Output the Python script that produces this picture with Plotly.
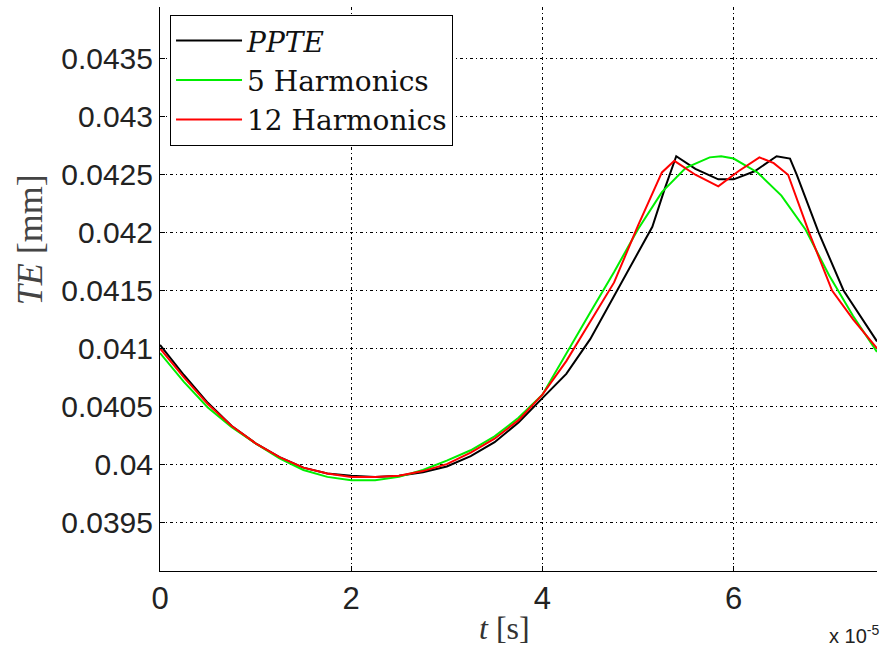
import plotly.graph_objects as go

# time in units of 1e-5 s
t_ppte = [0, 0.25, 0.5, 0.75, 1.0, 1.25, 1.5, 1.75, 2.0, 2.25, 2.5, 2.75, 3.0, 3.25, 3.5, 3.75,
          4.0, 4.25, 4.5, 4.75, 5.0, 5.15, 5.28, 5.40, 5.6, 5.84, 6.0, 6.22, 6.45, 6.59, 6.66,
          6.89, 7.15, 7.5]
te_ppte = [0.04103, 0.04077, 0.04053, 0.04033, 0.04018, 0.04006, 0.03997, 0.03992, 0.03990,
           0.03989, 0.03990, 0.03993, 0.03998, 0.04007, 0.04019, 0.04036, 0.04057, 0.04078,
           0.04108, 0.04145, 0.04182, 0.04205, 0.04238, 0.04266, 0.04255, 0.04246, 0.04246,
           0.04253, 0.04266, 0.04264, 0.04250, 0.04200, 0.04150, 0.04106]

t_h5 = [0, 0.25, 0.5, 0.75, 1.0, 1.25, 1.5, 1.75, 2.0, 2.25, 2.5, 2.75, 3.0, 3.25, 3.5, 3.75,
        4.0, 4.25, 4.5, 4.75, 5.0, 5.25, 5.5, 5.75, 5.87, 6.0, 6.25, 6.5, 6.75, 7.0, 7.25, 7.5]
te_h5 = [0.04096, 0.04071, 0.04049, 0.04032, 0.04018, 0.04005, 0.03995, 0.03989, 0.03986,
         0.03986, 0.03989, 0.03995, 0.04003, 0.04012, 0.04024, 0.04040, 0.04060, 0.04096,
         0.04131, 0.04166, 0.04203, 0.04235, 0.04256, 0.04265, 0.04266, 0.04264, 0.04252,
         0.04232, 0.04203, 0.04163, 0.04128, 0.04097]

t_h12 = [0, 0.25, 0.5, 0.75, 1.0, 1.25, 1.5, 1.75, 2.0, 2.25, 2.5, 2.75, 3.0, 3.25, 3.5, 3.75,
         4.0, 4.25, 4.5, 4.75, 5.0, 5.25, 5.38, 5.6, 5.84, 6.05, 6.27, 6.42, 6.57, 6.79, 7.03,
         7.25, 7.5]
te_h12 = [0.04100, 0.04075, 0.04052, 0.04033, 0.04018, 0.04006, 0.03997, 0.03992, 0.03989,
          0.03989, 0.03990, 0.03994, 0.04000, 0.04010, 0.04022, 0.04038, 0.04060, 0.04089,
          0.04123, 0.04157, 0.04206, 0.04252, 0.04262, 0.04250, 0.04240, 0.04253, 0.04265,
          0.04260, 0.04250, 0.04200, 0.04150, 0.04125, 0.04100]

y_tickvals = [0.0395, 0.04, 0.0405, 0.041, 0.0415, 0.042, 0.0425, 0.043, 0.0435]
y_ticktext = ["0.0395", "0.04", "0.0405", "0.041", "0.0415", "0.042", "0.0425", "0.043", "0.0435"]
x_tickvals = [0, 2, 4, 6]
x_ticktext = ["0", "2", "4", "6"]

fig = go.Figure()
fig.add_trace(go.Scatter(x=t_ppte, y=te_ppte, mode="lines", name="<i>PPTE</i>",
                         line=dict(color="#000000", width=2)))
fig.add_trace(go.Scatter(x=t_h5, y=te_h5, mode="lines", name="5 Harmonics",
                         line=dict(color="#00ee00", width=2)))
fig.add_trace(go.Scatter(x=t_h12, y=te_h12, mode="lines", name="12 Harmonics",
                         line=dict(color="#ff0000", width=2)))

grid_dash = "3px,3px,1px,3px"
fig.update_layout(
    width=887, height=650,
    margin=dict(l=160, r=10, t=7, b=79),
    paper_bgcolor="white", plot_bgcolor="white",
    showlegend=True,
    legend=dict(x=0.014, y=0.986, xanchor="left", yanchor="top",
                bgcolor="white", bordercolor="black", borderwidth=1,
                font=dict(family="DejaVu Serif", size=28, color="#111"),
                tracegroupgap=0, itemwidth=66),
    xaxis=dict(range=[0, 7.5], tickvals=x_tickvals, ticktext=x_ticktext,
               showline=True, linecolor="black", linewidth=1, mirror=False,
               ticks="inside", ticklen=5, tickcolor="black", automargin=False,
               showgrid=True, gridcolor="black", gridwidth=1, griddash=grid_dash,
               zeroline=False,
               tickfont=dict(family="Liberation Sans", size=31, color="#222")),
    yaxis=dict(range=[0.039077, 0.043949], tickvals=y_tickvals, ticktext=y_ticktext,
               showline=True, linecolor="black", linewidth=1, mirror=False,
               ticks="inside", ticklen=5, tickcolor="black", automargin=False,
               showgrid=True, gridcolor="black", gridwidth=1, griddash=grid_dash,
               zeroline=False,
               tickfont=dict(family="Liberation Sans", size=30, color="#222")),
    annotations=[
        dict(text="<i>TE</i> [mm]", xref="paper", yref="paper", x=-0.181, y=0.587,
             textangle=-90, showarrow=False, xanchor="center", yanchor="middle",
             font=dict(family="Liberation Serif", size=36, color="#444")),
        dict(text="<i>t</i> [s]", xref="paper", yref="paper", x=0.481, y=-0.101,
             showarrow=False, xanchor="center", yanchor="middle",
             font=dict(family="Liberation Serif", size=32, color="#333")),
        dict(text="x 10<sup>-5</sup>", xref="paper", yref="paper", x=1.006, y=-0.139,
             showarrow=False, xanchor="right", yanchor="bottom",
             font=dict(family="Liberation Sans", size=20, color="#222")),
    ],
)

fig.write_html("out.html", config={"displayModeBar": False},
               post_script="document.body.style.margin='0';")
